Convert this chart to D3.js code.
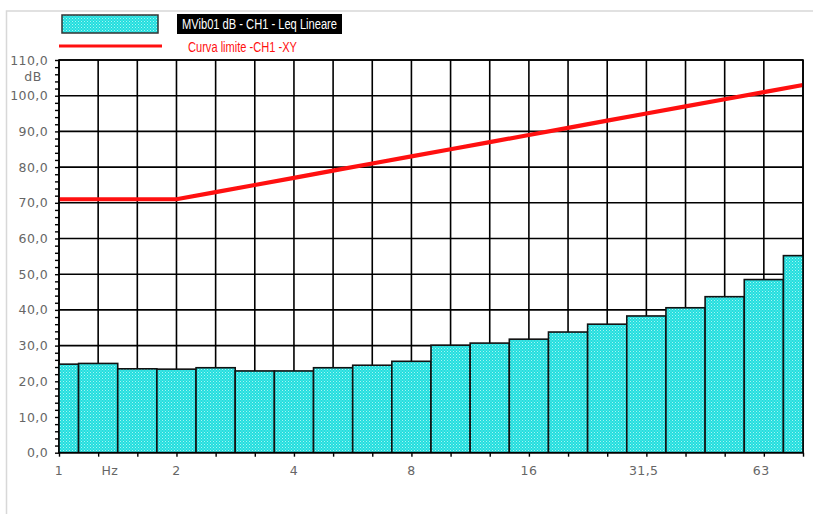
<!DOCTYPE html>
<html>
<head>
<meta charset="utf-8">
<script src="https://cdn.jsdelivr.net/npm/d3@7"></script>
<style>
  html, body { margin: 0; padding: 0; background: #fff; }
  svg { display: block; }
</style>
</head>
<body>
<svg id="chart" width="813" height="514"></svg>
<script>
// Third-octave band centre frequencies (Hz)
const bands = [1, 1.25, 1.6, 2, 2.5, 3.15, 4, 5, 6.3, 8, 10, 12.5, 16, 20, 25, 31.5, 40, 50, 63, 80];
// Measured linear Leq per band (dB)
const leqValues = [24.8, 25.0, 23.5, 23.4, 23.8, 22.9, 22.9, 23.8, 24.5, 25.6, 30.1, 30.7, 31.8, 33.8, 36.0, 38.3, 40.6, 43.7, 48.5, 55.2];
// Limit curve per band (dB)
const limitValues = [71, 71, 71, 71, 73, 75, 77, 79, 81, 83, 85, 87, 89, 91, 93, 95, 97, 99, 101, 103];
// Axis labels
const yTicks = [0, 10, 20, 30, 40, 50, 60, 70, 80, 90, 100, 110];
const xLabels = ["1", "Hz", "2", "4", "8", "16", "31,5", "63"];
const xLabelPos = [1, 1.35, 2, 4, 8, 16, 31.5, 63];
const seriesNames = ["MVib01 dB - CH1 - Leq Lineare", "Curva limite -CH1 -XY"];

const svg = d3.select("#chart");
const plotLeft = 59, plotRight = 803, plotTop = 60, plotBottom = 452.7;
const axisFont = "DejaVu Sans, Verdana, sans-serif";
const legendFont = "Liberation Sans, Arial, sans-serif";

// Band index -> exact logarithmic position
const step = Math.pow(2, 1 / 3);
const exact = i => Math.pow(step, i);
const x = d3.scaleLog().domain([1, exact(bands.length - 1)]).range([plotLeft, plotRight]);
const y = d3.scaleLinear().domain([0, 110]).range([plotBottom, plotTop]);
const bx = i => x(exact(i));

// Outer light frame
svg.append("rect").attr("x", 6.5).attr("y", 11).attr("width", 820).attr("height", 520)
  .attr("fill", "none").attr("stroke", "#d8d8d8").attr("stroke-width", 1.5);

// Dotted cyan fill pattern
const defs = svg.append("defs");
const pat = defs.append("pattern").attr("id", "dots").attr("patternUnits", "userSpaceOnUse")
  .attr("width", 3).attr("height", 3);
pat.append("rect").attr("width", 3).attr("height", 3).attr("fill", "#22dede");
pat.append("rect").attr("x", 0).attr("y", 0).attr("width", 1).attr("height", 1).attr("fill", "#a6f4f4");
pat.append("rect").attr("x", 1.5).attr("y", 1.5).attr("width", 1).attr("height", 1).attr("fill", "#86efef");

defs.append("clipPath").attr("id", "plotClip").append("rect")
  .attr("x", plotLeft).attr("y", plotTop).attr("width", plotRight - plotLeft).attr("height", plotBottom - plotTop);

// Grid
const grid = svg.append("g").attr("stroke", "#000").attr("stroke-width", 1.6);
grid.selectAll("line.h").data(yTicks).join("line").attr("class", "h")
  .attr("x1", plotLeft).attr("x2", plotRight).attr("y1", d => y(d)).attr("y2", d => y(d));
grid.selectAll("line.v").data(bands).join("line").attr("class", "v")
  .attr("x1", (d, i) => bx(i)).attr("x2", (d, i) => bx(i)).attr("y1", plotTop).attr("y2", plotBottom);

// Bars, one band wide, centred on each band
const half = Math.pow(2, 1 / 6);
svg.append("g").attr("clip-path", "url(#plotClip)")
  .selectAll("rect").data(leqValues).join("rect")
  .attr("x", (d, i) => x(exact(i) / half))
  .attr("width", (d, i) => x(exact(i) * half) - x(exact(i) / half))
  .attr("y", d => y(d))
  .attr("height", d => y(0) - y(d))
  .attr("fill", "url(#dots)")
  .attr("stroke", "#111").attr("stroke-width", 1.6);

// Limit curve
svg.append("path")
  .datum(limitValues)
  .attr("fill", "none").attr("stroke", "#ff1010").attr("stroke-width", 4.2)
  .attr("d", d3.line().x((d, i) => bx(i)).y(d => y(d)));

// Frame
svg.append("rect").attr("x", plotLeft).attr("y", plotTop).attr("width", plotRight - plotLeft).attr("height", plotBottom - plotTop)
  .attr("fill", "none").attr("stroke", "#000").attr("stroke-width", 1.6);

// Y axis with minor ticks every 2 dB
const yAxis = d3.axisLeft(y).tickValues(d3.range(0, 111, 2)).tickSize(4).tickFormat("");
const gy = svg.append("g").attr("transform", `translate(${plotLeft},0)`).call(yAxis);
gy.select(".domain").remove();
gy.selectAll(".tick line").attr("stroke", "#000").attr("stroke-width", 1.4);

svg.append("g").selectAll("text").data(yTicks).join("text")
  .attr("x", 48).attr("y", d => y(d) + 4.5)
  .attr("text-anchor", "end")
  .attr("font-family", axisFont).attr("font-size", 12.5)
  .attr("letter-spacing", 0.4)
  .attr("fill", "#666")
  .text(d => d.toFixed(1).replace(".", ","));
svg.append("text").attr("x", 33).attr("y", 81).attr("text-anchor", "middle")
  .attr("font-family", axisFont).attr("font-size", 12.5).attr("letter-spacing", 0.4)
  .attr("fill", "#666").text("dB");

// X axis ticks at every band
const xAxis = d3.axisBottom(x).tickValues(bands.map((d, i) => exact(i))).tickSize(4).tickFormat("");
const gx = svg.append("g").attr("transform", `translate(0,${plotBottom})`).call(xAxis);
gx.select(".domain").remove();
gx.selectAll(".tick line").attr("stroke", "#000").attr("stroke-width", 1.4);

svg.append("g").selectAll("text").data(xLabels).join("text")
  .attr("x", (d, i) => x(xLabelPos[i]))
  .attr("y", 475)
  .attr("text-anchor", "middle")
  .attr("font-family", axisFont).attr("font-size", 12.5).attr("letter-spacing", 0.4)
  .attr("fill", "#666")
  .text(d => d);

// Legend
const lg = svg.append("g");
lg.append("rect").attr("x", 62).attr("y", 15).attr("width", 96).attr("height", 18)
  .attr("fill", "url(#dots)").attr("stroke", "#333").attr("stroke-width", 1.5);
lg.append("rect").attr("x", 177).attr("y", 14).attr("width", 165).attr("height", 20).attr("fill", "#000");
lg.append("text").attr("x", 182).attr("y", 29)
  .attr("font-family", legendFont).attr("font-size", 14)
  .attr("textLength", 155).attr("lengthAdjust", "spacingAndGlyphs")
  .attr("fill", "#fff").text(seriesNames[0]);
lg.append("line").attr("x1", 59).attr("x2", 162).attr("y1", 46).attr("y2", 46)
  .attr("stroke", "#ff1010").attr("stroke-width", 3);
lg.append("text").attr("x", 188).attr("y", 52)
  .attr("font-family", legendFont).attr("font-size", 14)
  .attr("textLength", 109).attr("lengthAdjust", "spacingAndGlyphs")
  .attr("fill", "#ff1010").text(seriesNames[1]);
</script>
</body>
</html>
